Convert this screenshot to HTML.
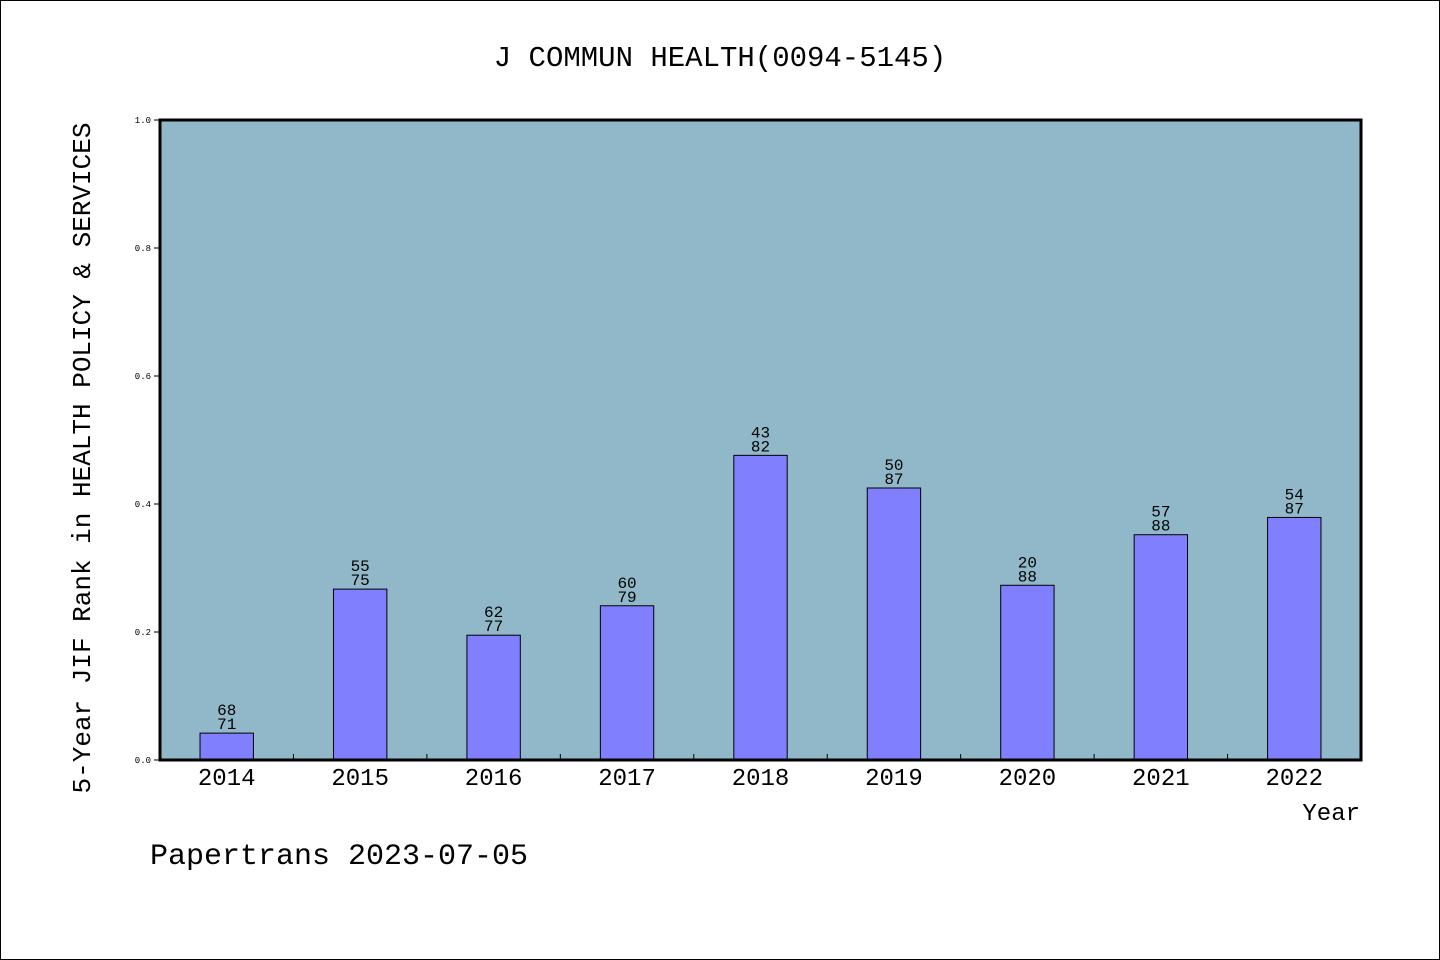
<!DOCTYPE html>
<html><head><meta charset="utf-8"><style>
html,body{margin:0;padding:0;background:#fff}
svg{display:block}
text{font-family:"Liberation Mono","DejaVu Sans Mono",monospace;fill:#000}
</style></head><body>
<svg id="chart" width="1440" height="960" xmlns="http://www.w3.org/2000/svg">
<rect x="0.5" y="0.5" width="1439" height="959" fill="#fff" stroke="#000"/>
<text x="720" y="66" font-size="29" text-anchor="middle">J COMMUN HEALTH(0094-5145)</text>
<rect x="160" y="120" width="1201" height="640" fill="#90b8c8"/>
<g id="bars"></g>
<g id="axes"></g>
<rect x="160" y="120" width="1201" height="640" fill="none" stroke="#000" stroke-width="3"/>
<text transform="translate(90,458) rotate(-90)" font-size="26" text-anchor="middle">5-Year JIF Rank in HEALTH POLICY &amp; SERVICES</text>
<text x="1360" y="820" font-size="24" text-anchor="end">Year</text>
<text x="150" y="864" font-size="30">Papertrans 2023-07-05</text>
</svg>
<script>
const years = ["2014","2015","2016","2017","2018","2019","2020","2021","2022"];
const ranks = [68,55,62,60,43,50,20,57,54];
const totals = [71,75,77,79,82,87,88,88,87];
const values = [0.042,0.267,0.195,0.241,0.476,0.425,0.273,0.352,0.379];
const yTicks = ["0.0","0.2","0.4","0.6","0.8","1.0"];

const NS = "http://www.w3.org/2000/svg";
const X0 = 160, X1 = 1361, Y0 = 760, Y1 = 120;
const slot = (X1 - X0) / years.length;
const xc = i => X0 + (i + 0.5) * slot;
const ys = v => Y0 - v * (Y0 - Y1);
function mk(tag, attrs, parent, txt) {
  const e = document.createElementNS(NS, tag);
  for (const k in attrs) e.setAttribute(k, attrs[k]);
  if (txt !== undefined) e.textContent = txt;
  parent.appendChild(e);
  return e;
}
const bars = document.getElementById("bars");
const axes = document.getElementById("axes");
const bw = slot * 0.4;
years.forEach((yr, i) => {
  const v = values[i];
  const b = mk("rect", {x: xc(i) - bw / 2, y: ys(v), width: bw, height: Y0 - ys(v), fill: "#8080ff", stroke: "#000", "stroke-width": 1}, bars);
  
  
  const t1 = mk("text", {x: xc(i), y: ys(v) - 18, "font-size": 16, "text-anchor": "middle"}, bars, String(ranks[i]));
  
  
  const t2 = mk("text", {x: xc(i), y: ys(v) - 4, "font-size": 16, "text-anchor": "middle"}, bars, String(totals[i]));
  
  
  const xl = mk("text", {x: xc(i), y: 785, "font-size": 24, "text-anchor": "middle"}, axes, yr);
  
  
  if (i > 0) {
    const tk = mk("line", {x1: X0 + i * slot, x2: X0 + i * slot, y1: Y0, y2: Y0 - 6, stroke: "#000"}, axes);
    
    
  }
});
yTicks.forEach(lbl => {
  const y = ys(parseFloat(lbl));
  const tk = mk("line", {x1: X0 - 6, x2: X0, y1: y, y2: y, stroke: "#000"}, axes);
  
  
  const tl = mk("text", {x: X0 - 9, y: y + 3, "font-size": 9, "text-anchor": "end"}, axes, lbl);
  
  
});
</script>
</body></html>
